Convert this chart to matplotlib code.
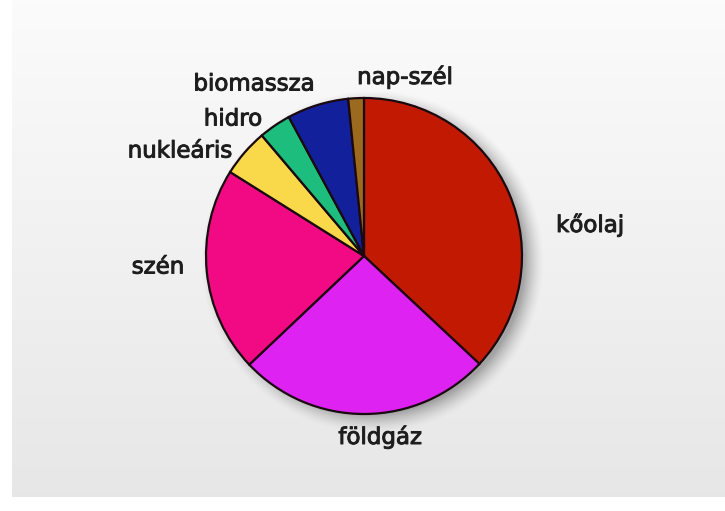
import matplotlib
matplotlib.use("Agg")
import matplotlib.pyplot as plt
import matplotlib.patheffects as pe
import numpy as np

labels = ["kőolaj", "földgáz", "szén", "nukleáris", "hidro", "biomassza", "nap-szél"]
shares = [37.0, 26.0, 21.0, 4.9, 3.3, 6.3, 1.6]
colors = ["#c21a02", "#dd22f2", "#f20a84", "#f9d849", "#1dbd7e", "#13209c", "#9c6a1e"]

# label positions in pixels (x, y from top)
label_pos = [(590, 225), (380, 437), (158, 267), (180, 151), (233, 119), (254, 84), (405, 77)]

W, H = 725, 511
cx, cy, r = 364, 511 - 256, 158

fig = plt.figure(figsize=(7.25, 5.11), dpi=100)
ax = fig.add_axes([0, 0, 1, 1])

# background: white strip left/bottom, soft grey gradient elsewhere
fig.patch.set_facecolor("white")
grad = np.linspace(0.985, 0.905, 256).reshape(-1, 1)
ax.imshow(np.dstack([grad] * 3), extent=(12, W, 14, H), aspect="auto", zorder=0)

# soft drop shadow
yy, xx = np.mgrid[0:H, 0:W]
d = np.hypot(xx - (cx + 8), (H - yy) - (cy - 5))
a = 0.5 * np.clip(1 - (d - (r - 6)) / 20, 0, 1) ** 1.5
shadow = np.zeros((H, W, 4))
shadow[..., :3] = 0.35
shadow[..., 3] = a
ax.imshow(shadow, extent=(0, W, 0, H), aspect="auto", zorder=1)

ax.pie(shares, colors=colors, startangle=90, counterclock=False,
       center=(cx, cy), radius=r,
       wedgeprops=dict(edgecolor="#1a0a10", linewidth=1.6, zorder=2))

for lab, (x, y) in zip(labels, label_pos):
    ax.text(x, H - y, lab, ha="center", va="center", fontsize=16.5,
            color="#1e1e1e", family="DejaVu Sans", zorder=3,
            path_effects=[pe.withStroke(linewidth=0.7, foreground="#1e1e1e")])

ax.set_xlim(0, W)
ax.set_ylim(0, H)
ax.set_aspect("auto")
ax.axis("off")

fig.savefig("out.png", dpi=100)
